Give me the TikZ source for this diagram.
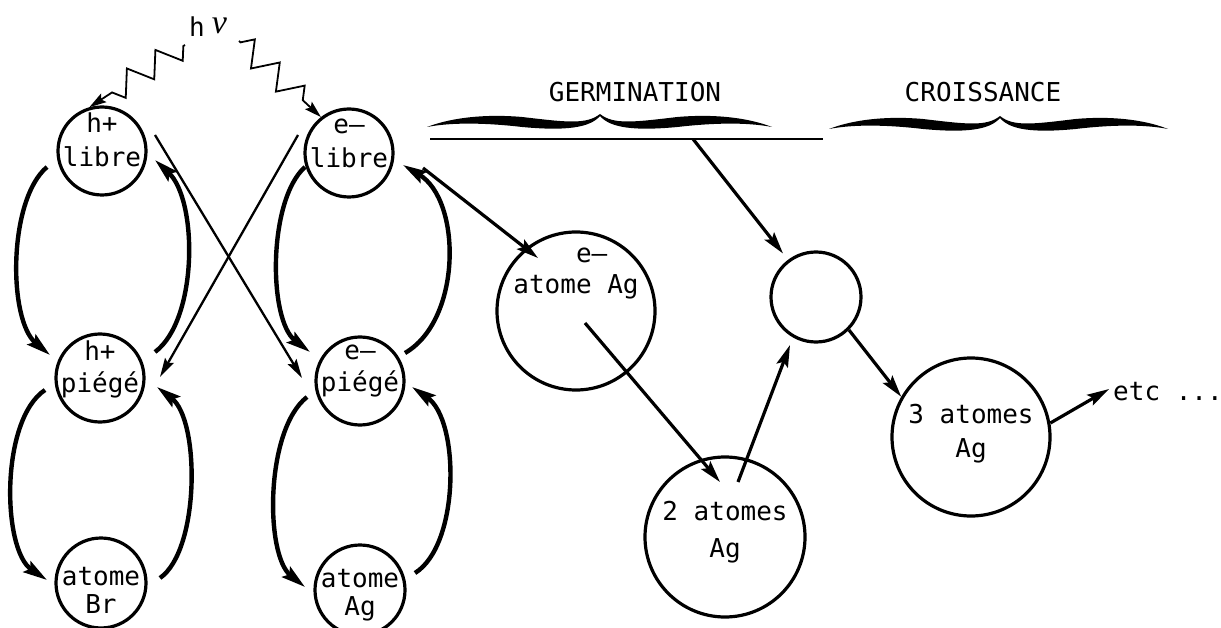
\documentclass[tikz,border=0pt]{standalone}
\usepackage{fontspec}
\setmainfont{DejaVu Sans Mono}
\newfontfamily\greekfont{Liberation Serif}
\usetikzlibrary{arrows.meta,calc,decorations.pathmorphing}

% calligraphic curly brace: #1 left end, #2 tip, #3 right end, #4 base line
\newcommand\calibrace[4]{%
  \pgfmathsetmacro\wa{#2-#1}\pgfmathsetmacro\wb{#3-#2}%
  \fill ({#1},{#4+6}) .. controls ({#1+0.15*\wa},{#4-4}) and ({#1+0.35*\wa},{#4-7}) .. ({#1+0.55*\wa},{#4-4})
    .. controls ({#1+0.8*\wa},{#4+1}) and ({#2-0.08*\wa},{#4+4}) .. ({#2},{#4-7})
    .. controls ({#2+0.08*\wb},{#4+4}) and ({#3-0.8*\wb},{#4+1}) .. ({#3-0.55*\wb},{#4-4})
    .. controls ({#3-0.35*\wb},{#4-7}) and ({#3-0.15*\wb},{#4-4}) .. ({#3},{#4+6})
    .. controls ({#3-0.15*\wb},{#4+1}) and ({#3-0.35*\wb},{#4+2}) .. ({#3-0.55*\wb},{#4+6})
    .. controls ({#3-0.8*\wb},{#4+10}) and ({#2+0.06*\wb},{#4+7}) .. ({#2},{#4-5})
    .. controls ({#2-0.06*\wa},{#4+7}) and ({#1+0.8*\wa},{#4+10}) .. ({#1+0.55*\wa},{#4+6})
    .. controls ({#1+0.35*\wa},{#4+2}) and ({#1+0.15*\wa},{#4+1}) .. ({#1},{#4+6}) -- cycle;}

\begin{document}
\begin{tikzpicture}[x=1pt,y=-1pt,
  ring/.style={circle,draw,line width=3.2pt,minimum size=#1,inner sep=0pt},
  txt/.style={font=\fontsize{26}{#1}\selectfont,align=center,inner sep=0pt},
  bold/.style={line width=4.4pt,-{Stealth[length=24pt,width=13pt,inset=4pt]}},
  mid/.style={line width=3.2pt,-{Stealth[length=22pt,width=12pt,inset=4pt]}},
  thin/.style={line width=2.3pt,-{Stealth[length=19pt,width=10pt,inset=3pt]}},
  wave/.style={decorate,decoration={zigzag,segment length=34pt,amplitude=12pt,pre length=2pt,post length=16pt},
    line width=1.8pt,-{Stealth[length=17pt,width=10pt,inset=3pt]}}
]
\useasboundingbox (0,0) rectangle (1221,628);

% photon
\node[txt=30,anchor=base west] (hv) at (189,37) {h\hspace{7pt}\raisebox{3pt}{\greekfont\itshape\fontsize{34}{34}\selectfont ν}};
\coordinate (zl) at (185,45);
\coordinate (zr) at (239,41);

% left part: holes and electrons
\node[ring=88pt,label={[txt=34,yshift=11pt]center:h+\\libre}] (hlibre) at (102,151) {};
\node[ring=88pt,label={[txt=34,yshift=10pt]center:e–\\libre}] (elibre) at (349,153) {};
\node[ring=88pt,label={[txt=32,yshift=9pt]center:h+\\piégé}] (hpiege) at (100,378) {};
\node[ring=88pt,label={[txt=32,yshift=10pt]center:e–\\piégé}] (epiege) at (360,381) {};
\node[ring=90pt,label={[txt=28,yshift=-7pt]center:atome\\Br}] (br) at (101,583) {};
\node[ring=90pt,label={[txt=28,yshift=-5pt]center:atome\\Ag}] (ag) at (360,590) {};

% right part: nucleation and growth
\node[ring=158pt,label={[txt=31,align=left,yshift=37pt]center:\hphantom{atom}e–\\atome Ag}] (eatom) at (576,311) {};
\node[ring=90pt] (small) at (816,297) {};
\node[ring=160pt,label={[txt=37,yshift=5pt]center:2 atomes\\Ag}] (two) at (725,537) {};
\node[ring=158pt,label={[txt=34,yshift=3pt]center:3 atomes\\Ag}] (three) at (971,437) {};
\node[txt=30,anchor=base west] (etc) at (1113,400) {etc ...};

% headings
\node[txt=30,anchor=base] (germ) at (635,102) {GERMINATION};
\node[txt=30,anchor=base] (crois) at (983,102) {CROISSANCE};
\calibrace{427}{600}{772}{121}
\calibrace{829}{1000}{1168}{123}
\coordinate (gl) at (430,139);
\coordinate (gr) at (823,139);
\coordinate (gm) at (693,139);
\draw[line width=2.8pt] (gl) -- (gr);

% photon arrows
\draw[wave] (zl) -- (hlibre.106);
\draw[wave] (zr) -- (elibre.128);

% hole column
\draw[bold] ($(hlibre)+(-55,16)$) .. controls (8,200) and (8,320) .. ($(hpiege)+(-50,-23)$);
\draw[bold] ($(hpiege)+(55,-26)$) .. controls (198,320) and (198,200) .. ($(hlibre)+(53,9)$);
\draw[bold] ($(hpiege)+(-55,12)$) .. controls (0,420) and (2,550) .. ($(br)+(-54,-3)$);
\draw[bold] ($(br)+(59,-5)$) .. controls (200,550) and (200,420) .. ($(hpiege)+(57,9)$);

% electron column
\draw[bold] ($(elibre)+(-44,14)$) .. controls (268,200) and (268,320) .. ($(epiege)+(-50,-29)$);
\draw[bold] ($(epiege)+(45,-28)$) .. controls (462,320) and (462,200) .. ($(elibre)+(54,12)$);
\draw[bold] ($(epiege)+(-53,16)$) .. controls (265,430) and (265,555) .. ($(ag)+(-55,-3)$);
\draw[bold] ($(ag)+(55,-17)$) .. controls (460,545) and (460,420) .. ($(epiege)+(52,6)$);

% recombination crossings
\draw[thin] ($(hlibre)+(53,-16)$) -- ($(epiege)+(-58,-3)$);
\draw[thin] ($(elibre)+(-51,-18)$) -- ($(hpiege)+(60,-1)$);

% nucleation chain
\draw[mid] ($(elibre)+(74,15)$) -- ($(eatom)+(-38,-53)$);
\draw[mid] ($(eatom)+(9,12)$) -- ($(two)+(-5,-55)$);
\draw[mid] ($(two)+(13,-55)$) -- ($(small)+(-26,48)$);
\draw[mid,shorten >=8pt] (gm) -- (small.127);
\draw[mid] (small.-45) -- (three.150);
\draw[mid] (three.10) -- ($(etc.west)+(-4,-2)$);
\end{tikzpicture}
\end{document}
